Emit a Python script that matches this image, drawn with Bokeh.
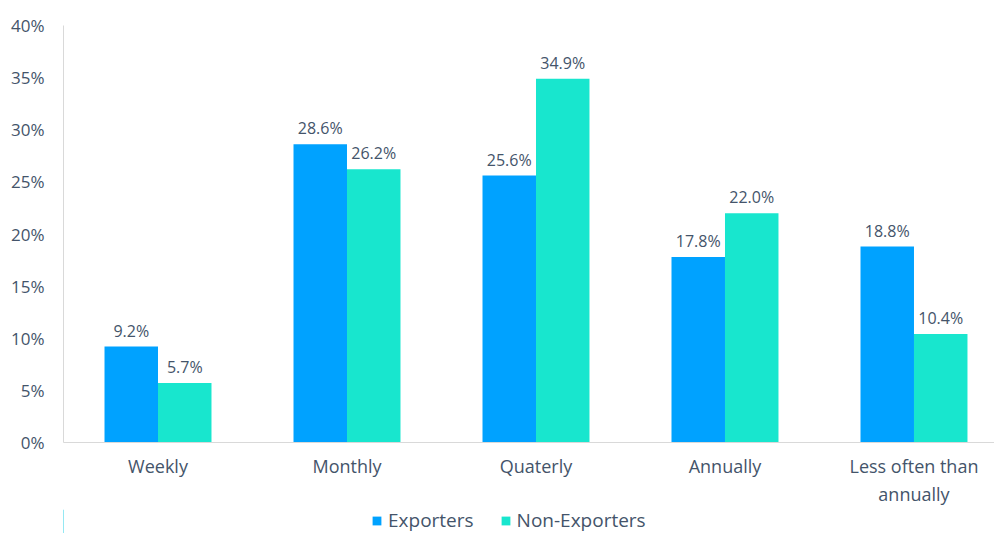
from bokeh.plotting import figure
from bokeh.layouts import column
from bokeh.models import ColumnDataSource, Range1d, FixedTicker, Legend, LegendItem
from bokeh.core.properties import value
from bokeh.embed import file_html
from bokeh.resources import INLINE

categories = ["Weekly", "Monthly", "Quaterly", "Annually", "Less often than\nannually"]
exporters = [9.2, 28.6, 25.6, 17.8, 18.8]
non_exporters = [5.7, 26.2, 34.9, 22.0, 10.4]
series_names = ["Exporters", "Non-Exporters"]
y_ticks = [0, 5, 10, 15, 20, 25, 30, 35, 40]

FONT = "Open Sans"
TXT = "#44546A"
BLUE = "#00A2FF"
TEAL = "#18E6CE"

idx = list(range(len(categories)))
w = 0.283
src = ColumnDataSource(dict(
    x1=[i - w / 2 for i in idx], x2=[i + w / 2 for i in idx],
    e=exporters, n=non_exporters,
    el=[f"{v:.1f}%" for v in exporters], nl=[f"{v:.1f}%" for v in non_exporters],
))

p = figure(width=994, height=509, output_backend="svg", toolbar_location=None,
           x_range=Range1d(-0.5, 4.426), y_range=Range1d(0, 40),
           min_border_left=63, min_border_right=0, min_border_top=25, min_border_bottom=60)
p.outline_line_color = None
p.xgrid.grid_line_color = None
p.ygrid.grid_line_color = None

p.vbar(x="x1", top="e", width=w, source=src, color=BLUE, line_color=None)
p.vbar(x="x2", top="n", width=w, source=src, color=TEAL, line_color=None)

for xcol, ycol, lcol in [("x1", "e", "el"), ("x2", "n", "nl")]:
    p.text(x=xcol, y=ycol, text=lcol, source=src, text_align="center", text_baseline="bottom",
           y_offset=-5, text_font=value(FONT), text_font_size="16px", text_color=TXT)

p.yaxis.ticker = FixedTicker(ticks=y_ticks)
p.yaxis.major_label_overrides = {t: f"{t}%" for t in y_ticks}
p.yaxis.axis_line_color = "#D9D9D9"
p.yaxis.major_tick_line_color = None
p.yaxis.minor_tick_line_color = None
p.yaxis.major_label_text_font = FONT
p.yaxis.major_label_text_font_size = "17px"
p.yaxis.major_label_text_color = TXT
p.yaxis.major_label_standoff = 13

p.xaxis.ticker = FixedTicker(ticks=idx)
p.xaxis.major_label_overrides = {i: c for i, c in zip(idx, categories)}
p.xaxis.axis_line_color = "#D9D9D9"
p.xaxis.major_tick_line_color = None
p.xaxis.minor_tick_line_color = None
p.xaxis.major_label_text_font = FONT
p.xaxis.major_label_text_font_size = "18px"
p.xaxis.major_label_text_color = TXT
p.xaxis.major_label_standoff = 5

# legend strip below the chart
lg = figure(width=994, height=24, output_backend="svg", toolbar_location=None,
            x_range=Range1d(0, 1), y_range=Range1d(0, 1),
            min_border_left=0, min_border_right=0, min_border_top=0, min_border_bottom=0)
for ax in lg.axis:
    ax.visible = False
    ax.axis_line_color = None
    ax.major_tick_line_color = None
    ax.minor_tick_line_color = None
    ax.major_label_text_color = None
lg.grid.visible = False
lg.outline_line_color = None
lg.border_fill_color = None
hidden = ColumnDataSource(dict(x=[-5.0], top=[1.0]))
g1 = lg.vbar(x="x", top="top", width=0.1, source=hidden, color=BLUE, line_color=None)
g2 = lg.vbar(x="x", top="top", width=0.1, source=hidden, color=TEAL, line_color=None)
legend = Legend(items=[LegendItem(label=series_names[0], renderers=[g1]),
                       LegendItem(label=series_names[1], renderers=[g2])],
                orientation="horizontal", location=(308, 0),
                label_text_font=FONT, label_text_font_size="19px", label_text_color=TXT,
                label_height=18,
                glyph_width=11, glyph_height=11, spacing=26, padding=0, margin=0,
                label_standoff=6, border_line_color=None, background_fill_alpha=0)
lg.add_layout(legend, "center")

layout = column(p, lg, spacing=0)
open("out.html", "w").write(file_html(layout, INLINE))
